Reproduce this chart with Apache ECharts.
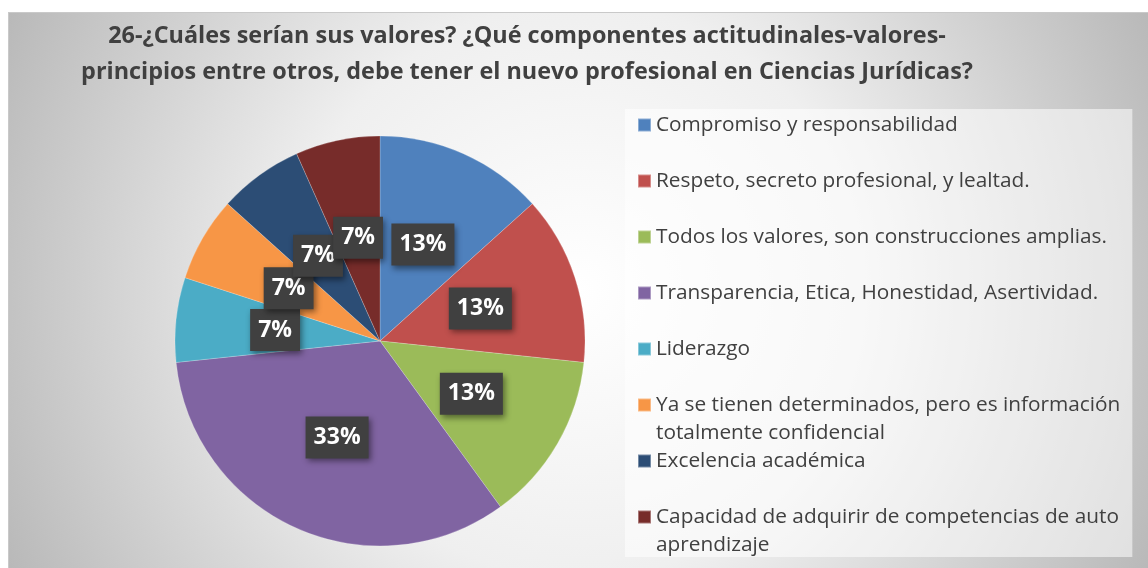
<!DOCTYPE html>
<html>
<head>
<meta charset="utf-8">
<script src="https://cdn.jsdelivr.net/npm/echarts@6/dist/echarts.min.js"></script>
<style>
  html, body { margin: 0; padding: 0; background: #fff; }
  #chart {
    position: absolute;
    left: 8px;
    top: 12px;
    width: 1140px;
    height: 556px;
    border-top: 1px solid #c9c9c9;
    border-left: 1px solid #c9c9c9;
    box-sizing: border-box;
  }
</style>
</head>
<body>
<div id="chart"></div>
<script>
// categorías de la pregunta 26
const categories = [
  'Compromiso y responsabilidad',
  'Respeto, secreto profesional, y lealtad.',
  'Todos los valores, son construcciones amplias.',
  'Transparencia, Etica, Honestidad, Asertividad.',
  'Liderazgo',
  'Ya se tienen determinados, pero es información\ntotalmente confidencial',
  'Excelencia académica',
  'Capacidad de adquirir de competencias de auto\naprendizaje'
];
// número de respuestas (15 en total)
const counts = [2, 2, 2, 5, 1, 1, 1, 1];
const colors = ['#4f81bd', '#c0504d', '#9bbb59', '#8064a2', '#4bacc6', '#f79646', '#2c4d75', '#772c2a'];

const titleText = '26-¿Cuáles serían sus valores? ¿Qué componentes actitudinales-valores-\nprincipios entre otros, debe tener el nuevo profesional en Ciencias Jurídicas?';

const chart = echarts.init(document.getElementById('chart'));

// en Excel la segunda línea de una entrada no desplaza a las demás,
// así que se dibuja con una segunda leyenda (sin iconos) 28px más abajo
const legendTop = 96;
const legendLeft = 616;
const legendText = {
  fontFamily: 'Open Sans',
  fontSize: 20.8,
  color: '#404040',
  lineHeight: 28
};

const option = {
  backgroundColor: {
    type: 'radial',
    x: 0.5, y: 0.5, r: 1.15,
    colorStops: [
      { offset: 0, color: '#ffffff' },
      { offset: 0.45, color: '#efefef' },
      { offset: 1, color: '#b8b8b8' }
    ]
  },
  color: colors,
  title: {
    text: titleText,
    left: 513,
    top: 0,
    textAlign: 'center',
    textStyle: {
      fontFamily: 'Open Sans',
      fontSize: 23.4,
      fontWeight: 'bold',
      color: '#404040',
      lineHeight: 36
    }
  },
  legend: [
    {
      orient: 'vertical',
      left: legendLeft,
      top: legendTop,
      padding: [2, 12, 26, 12],
      backgroundColor: 'rgba(255,255,255,0.55)',
      itemWidth: 13,
      itemHeight: 13,
      itemGap: 28,
      icon: 'rect',
      selectedMode: false,
      textStyle: legendText,
      formatter: name => name.split('\n')[0],
      data: categories
    },
    {
      orient: 'vertical',
      left: legendLeft,
      top: legendTop + 28,
      padding: [2, 12, 0, 12],
      z: 5,
      itemWidth: 13,
      itemHeight: 13,
      itemGap: 28,
      icon: 'rect',
      itemStyle: { opacity: 0 },
      selectedMode: false,
      textStyle: legendText,
      formatter: name => name.split('\n')[1] || ' ',
      data: categories
    }
  ],
  series: [
    {
      type: 'pie',
      center: [371, 328],
      radius: 205,
      startAngle: 90,
      clockwise: true,
      percentPrecision: 0,
      silent: true,
      avoidLabelOverlap: false,
      labelLayout: { hideOverlap: false },
      itemStyle: {
        borderColor: 'rgba(255,255,255,0.35)',
        borderWidth: 0.6
      },
      label: {
        position: 'inside',
        formatter: '{d}%',
        fontFamily: 'Open Sans',
        fontSize: 23,
        fontWeight: 'bold',
        color: '#ffffff',
        lineHeight: 28,
        backgroundColor: '#404040',
        padding: [7, 8],
        shadowColor: 'rgba(0,0,0,0.45)',
        shadowBlur: 6,
        shadowOffsetX: 2,
        shadowOffsetY: 3
      },
      labelLine: { show: false },
      data: categories.map((name, i) => ({ name, value: counts[i] }))
    }
  ]
};

option && chart.setOption(option);
</script>
</body>
</html>
